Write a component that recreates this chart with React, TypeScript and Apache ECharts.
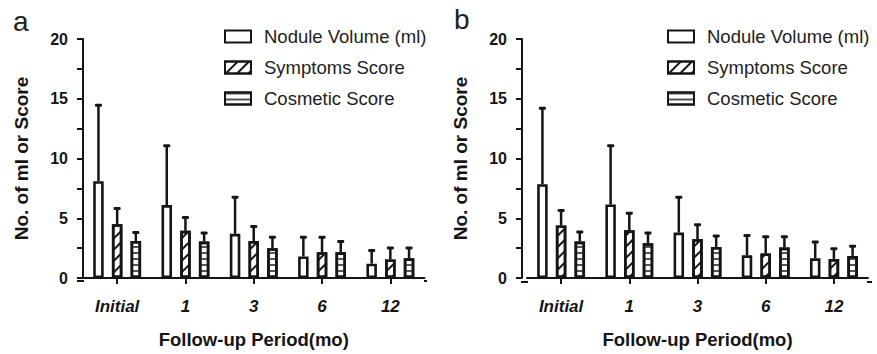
import React, { useEffect, useRef } from "react";
import * as echarts from "echarts";

const categories = ["Initial", "1", "3", "6", "12"];
const seriesNames = ["Nodule Volume (ml)", "Symptoms Score", "Cosmetic Score"];
const yTicks = [0, 5, 10, 15, 20];

// Panel a: means and upper error bar ends
const aNoduleMean = [8.1, 6.1, 3.7, 1.8, 1.2];
const aNoduleTop = [14.5, 11.1, 6.8, 3.45, 2.35];
const aSymptomMean = [4.5, 3.95, 3.1, 2.15, 1.55];
const aSymptomTop = [5.85, 5.1, 4.35, 3.45, 2.55];
const aCosmeticMean = [3.1, 3.05, 2.5, 2.15, 1.65];
const aCosmeticTop = [3.85, 3.8, 3.45, 3.1, 2.55];

// Panel b
const bNoduleMean = [7.85, 6.15, 3.8, 1.9, 1.65];
const bNoduleTop = [14.25, 11.1, 6.8, 3.6, 3.05];
const bSymptomMean = [4.4, 4.0, 3.25, 2.05, 1.6];
const bSymptomTop = [5.7, 5.45, 4.5, 3.5, 2.5];
const bCosmeticMean = [3.05, 2.9, 2.6, 2.55, 1.85];
const bCosmeticTop = [3.9, 3.8, 3.55, 3.5, 2.7];

const FONT = "'Liberation Sans', Arial, sans-serif";
const INK = "#151515";
const BAR_W = 10.5;
const BAR_GAP = 0.78;
const BORDER = 2.6;

const decals: any[] = [
  null,
  {
    symbol: "rect",
    symbolSize: 1,
    color: INK,
    dashArrayX: [1, 0],
    dashArrayY: [2, 6],
    rotation: -Math.PI / 4,
  },
  {
    symbol: "rect",
    symbolSize: 1,
    color: "#555",
    dashArrayX: [1, 0],
    dashArrayY: [1.3, 3.2],
    rotation: 0,
  },
];

function barStyle(k: number) {
  const s: any = { color: "#fff", borderColor: INK, borderWidth: BORDER };
  if (decals[k]) s.decal = decals[k];
  return s;
}

function makePanel(gi: number, means: number[][], tops: number[][]) {
  const series: any[] = [];
  means.forEach((m, k) => {
    series.push({
      type: "bar",
      name: seriesNames[k],
      xAxisIndex: gi,
      yAxisIndex: gi,
      data: m,
      barWidth: BAR_W,
      barGap: BAR_GAP * 100 + "%",
      itemStyle: barStyle(k),
      z: 2,
    });
  });
  means.forEach((m, k) => {
    const offset = (k - 1) * BAR_W * (1 + BAR_GAP);
    series.push({
      type: "custom",
      name: seriesNames[k] + " err",
      xAxisIndex: gi,
      yAxisIndex: gi,
      data: m.map((v, i) => [i, v, tops[k][i]]),
      encode: { x: 0, y: [1, 2] },
      z: 3,
      renderItem: (params: any, api: any) => {
        const i = api.value(0);
        const p0 = api.coord([i, api.value(1)]);
        const p1 = api.coord([i, api.value(2)]);
        const x = p0[0] + offset;
        return {
          type: "group",
          children: [
            {
              type: "line",
              shape: { x1: x, y1: p0[1], x2: x, y2: p1[1] },
              style: { stroke: INK, lineWidth: 2.5 },
            },
            {
              type: "rect",
              shape: { x: x - 3.5, y: p1[1] - 1, width: 7, height: 3, r: 1 },
              style: { fill: INK },
            },
          ],
        };
      },
    });
  });
  return series;
}

export default function App() {
  const ref = useRef<HTMLDivElement>(null);
  useEffect(() => {
    if (!ref.current) return;
    const chart = echarts.init(ref.current, null, { renderer: "svg" });
    const grids = [
      { left: 83, top: 39, width: 341.5, height: 242 },
      { left: 527, top: 39, width: 341, height: 243 },
    ];
    const xAxes = grids.map((g, gi) => ({
      type: "category",
      gridIndex: gi,
      data: categories,
      axisLine: { show: true, lineStyle: { color: INK, width: 2 } },
      axisTick: { show: true, alignWithLabel: true, length: 6, lineStyle: { color: INK, width: 2 } },
      axisLabel: {
        margin: 20,
        color: INK,
        fontFamily: FONT,
        fontSize: 17,
        fontWeight: "bold",
        fontStyle: "italic",
      },
      name: "Follow-up Period(mo)",
      nameLocation: "middle",
      nameGap: 52,
      nameTextStyle: { color: INK, fontFamily: FONT, fontSize: 18.5, fontWeight: "bold" },
    }));
    const yAxes = grids.map((g, gi) => ({
      type: "value",
      gridIndex: gi,
      min: 0,
      max: 20,
      interval: 2.5,
      offset: gi === 1 ? 5 : 0,
      splitLine: { show: false },
      axisLine: { show: true, lineStyle: { color: INK, width: 2 } },
      axisTick: { show: true, length: 6, lineStyle: { color: INK, width: 2 } },
      axisLabel: {
        margin: 15,
        color: INK,
        fontFamily: FONT,
        fontSize: 16,
        fontWeight: "bold",
        formatter: (v: number) => (yTicks.indexOf(v) >= 0 ? String(v) : ""),
      },
      name: "No. of ml or Score",
      nameLocation: "middle",
      nameGap: 52,
      nameTextStyle: { color: INK, fontFamily: FONT, fontSize: 19, fontWeight: "bold" },
    }));
    const legendCommon = {
      orient: "vertical",
      top: 22,
      itemWidth: 26,
      itemHeight: 12,
      itemGap: 12,
      icon: "rect",
      selectedMode: false,
      data: seriesNames,
      textStyle: {
        color: "#222",
        fontFamily: FONT,
        fontSize: 18.5,
        lineHeight: 16,
        padding: [0, 0, 0, 8],
      },
    };
    chart.setOption({
      animation: false,
      backgroundColor: "#fff",
      grid: grids,
      xAxis: xAxes,
      yAxis: yAxes,
      legend: [
        { ...legendCommon, left: 219 },
        { ...legendCommon, left: 662 },
      ],
      graphic: [
        { type: "text", left: 13, top: 7, style: { text: "a", font: `28px ${FONT}`, fill: "#222" } },
        { type: "text", left: 454, top: 5, style: { text: "b", font: `28px ${FONT}`, fill: "#222" } },
        { type: "line", shape: { x1: 77, y1: 281, x2: 84, y2: 281 }, style: { stroke: INK, lineWidth: 2 } },
        { type: "line", shape: { x1: 424, y1: 281, x2: 427, y2: 281 }, style: { stroke: INK, lineWidth: 2 } },
        { type: "line", shape: { x1: 521, y1: 282, x2: 528, y2: 282 }, style: { stroke: INK, lineWidth: 2 } },
        { type: "line", shape: { x1: 867, y1: 282, x2: 872, y2: 282 }, style: { stroke: INK, lineWidth: 2 } },
      ],
      series: [
        ...makePanel(0, [aNoduleMean, aSymptomMean, aCosmeticMean], [aNoduleTop, aSymptomTop, aCosmeticTop]),
        ...makePanel(1, [bNoduleMean, bSymptomMean, bCosmeticMean], [bNoduleTop, bSymptomTop, bCosmeticTop]),
      ],
    });
    return () => chart.dispose();
  }, []);
  return (
    <div
      ref={ref}
      style={{ position: "absolute", left: 0, top: 0, width: 877, height: 354, background: "#fff" }}
    />
  );
}
